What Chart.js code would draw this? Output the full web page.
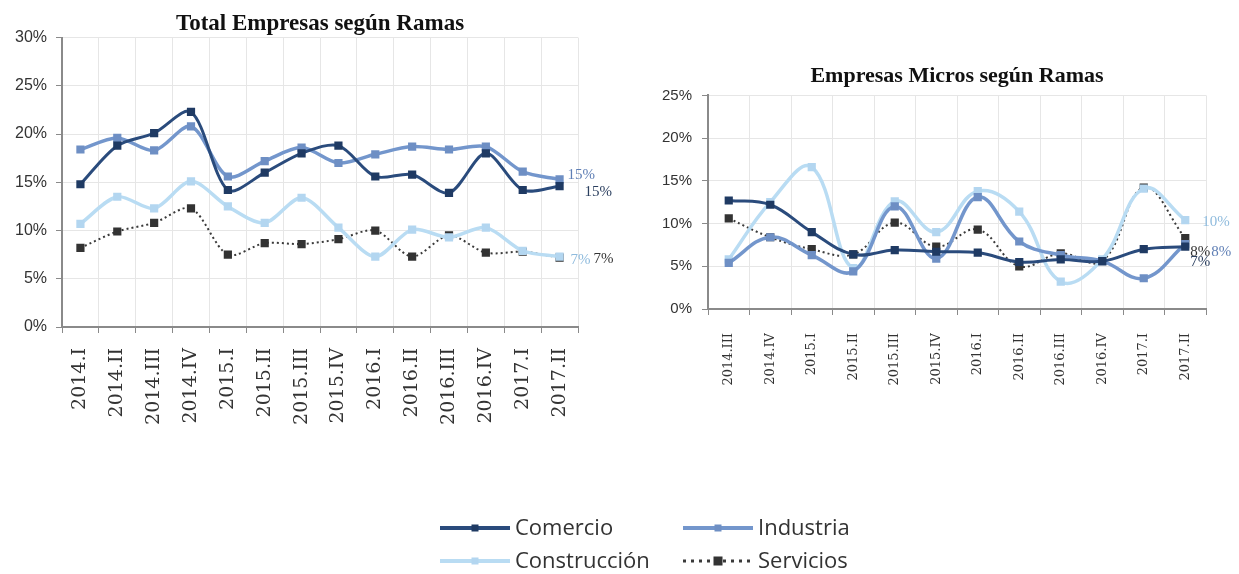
<!DOCTYPE html>
<html><head><meta charset="utf-8">
<script src="https://cdn.jsdelivr.net/npm/chart.js@4/dist/chart.umd.min.js"></script>
<style>
html,body{margin:0;padding:0;background:#fff;width:1239px;height:574px;overflow:hidden;}
.box{position:absolute;}
</style></head><body>
<div class="box" style="left:0;top:0;width:620px;height:460px"><canvas id="c1"></canvas></div>
<div class="box" style="left:620px;top:40px;width:619px;height:400px"><canvas id="c2"></canvas></div>
<div class="box" style="left:420px;top:500px;width:460px;height:74px"><canvas id="c3"></canvas></div>
<script>
// ---- data ----
const seriesNames = ['Comercio', 'Industria', 'Construcción', 'Servicios'];

const totalCategories = ['2014.I','2014.II','2014.III','2014.IV','2015.I','2015.II','2015.III','2015.IV','2016.I','2016.II','2016.III','2016.IV','2017.I','2017.II'];
const totalComercio     = [14.8,18.8,20.1,22.3,14.2,16.0,18.0,18.8,15.6,15.8,13.9,18.0,14.2,14.6];
const totalIndustria    = [18.4,19.6,18.3,20.8,15.6,17.2,18.6,17.0,17.9,18.7,18.4,18.7,16.1,15.3];
const totalConstruccion = [10.7,13.5,12.3,15.1,12.5,10.8,13.4,10.3,7.3,10.1,9.3,10.3,7.9,7.3];
const totalServicios    = [8.2,9.9,10.8,12.3,7.5,8.7,8.6,9.1,10.0,7.3,9.5,7.7,7.8,7.2];
const totalYTicks = [0,5,10,15,20,25,30];

const microCategories = ['2014.III','2014.IV','2015.I','2015.II','2015.III','2015.IV','2016.I','2016.II','2016.III','2016.IV','2017.I','2017.II'];
const microComercio     = [12.7,12.2,9.0,6.4,6.9,6.7,6.6,5.5,5.8,5.6,7.0,7.3];
const microIndustria    = [5.4,8.4,6.3,4.4,12.0,5.9,13.1,7.9,6.3,5.6,3.6,7.6];
const microConstruccion = [5.8,12.5,16.6,4.8,12.6,9.0,13.8,11.4,3.2,5.8,14.1,10.4];
const microServicios    = [10.6,8.4,7.0,6.4,10.1,7.3,9.3,5.0,6.5,5.6,14.2,8.3];
const microYTicks = [0,5,10,15,20,25];

// ---- styles ----
const seriesStyle = [
  {line:'#2A4B7C', point:'#1F3A63', width:3,   dash:[],    label:'#2B3F5F'},
  {line:'#7396CC', point:'#6E8FC4', width:3.5, dash:[],    label:'#5F7FB5'},
  {line:'#B9DCF3', point:'#B3D6F0', width:3.5, dash:[],    label:'#8FBBDD'},
  {line:'#3A3A3A', point:'#333333', width:2,   dash:[2,3], label:'#333333'}
];

function makeDatasets(values, tension) {
  return values.map((v, i) => ({
    label: seriesNames[i],
    data: v,
    borderColor: seriesStyle[i].line,
    backgroundColor: seriesStyle[i].point,
    borderWidth: seriesStyle[i].width,
    borderDash: seriesStyle[i].dash,
    pointStyle: 'rect',
    pointRadius: 5.8,
    pointBorderWidth: 0,
    pointBackgroundColor: seriesStyle[i].point,
    tension: tension,
    fill: false
  }));
}

const endLabelPlugin = {
  id: 'endLabels',
  afterDatasetsDraw(chart, args, opts) {
    const ctx = chart.ctx;
    ctx.save();
    ctx.font = opts.font;
    ctx.textAlign = 'left';
    ctx.textBaseline = 'middle';
    opts.items.forEach(it => {
      const meta = chart.getDatasetMeta(it.ds);
      const pt = meta.data[meta.data.length - 1];
      const ds = chart.data.datasets[it.ds];
      const val = ds.data[ds.data.length - 1];
      ctx.fillStyle = seriesStyle[it.ds].label;
      ctx.fillText(Math.round(val) + '%', pt.x + it.dx, pt.y + it.dy);
    });
    ctx.restore();
  }
};

function makeScales(cfg) {
  return {
    x: {
      type: 'category',
      offset: true,
      grid: {color:'#e6e6e6', offset:true, tickLength:6, tickColor:'#8a8a8a', lineWidth:1},
      border: {color:'#8a8a8a', width:2},
      ticks: {autoSkip:false, maxRotation:90, minRotation:90, padding:cfg.xPad,
              font:{family:'DejaVu Serif', size:cfg.xFont}, color:'#333'},
      afterFit: s => { s.height = cfg.xHeight; }
    },
    y: {
      min: 0, max: cfg.yMax,
      afterBuildTicks: s => { s.ticks = cfg.yTicks.map(v => ({value:v})); },
      grid: {color:'#e6e6e6', tickLength:6, tickColor:'#8a8a8a', lineWidth:1},
      border: {color:'#8a8a8a', width:2},
      ticks: {padding:cfg.yPad, font:{family:'Liberation Sans', size:cfg.yFont}, color:'#333',
              callback: v => v + '%'},
      afterFit: s => { s.width = cfg.yWidth; }
    }
  };
}

Chart.defaults.animation = false;

new Chart(document.getElementById('c1'), {
  type: 'line',
  data: {labels: totalCategories,
         datasets: makeDatasets([totalComercio, totalIndustria, totalConstruccion, totalServicios], 0.3)},
  options: {
    responsive: true, maintainAspectRatio: false,
    layout: {padding: {left:0, right:42, top:0, bottom:0}},
    scales: makeScales({yMax:30, yTicks: totalYTicks, xFont:19, xPad:15, xHeight:133, yFont:16, yPad:9, yWidth:62}),
    plugins: {
      legend: {display:false},
      tooltip: {enabled:false},
      title: {display:true, text:'Total Empresas según Ramas', fullSize:false,
              font:{family:'Liberation Serif', size:23, weight:'bold'}, color:'#111',
              padding:{top:10, bottom:0}},
      endLabels: {font:'15px "Liberation Serif"', items:[
        {ds:1, dx:8, dy:-4}, {ds:0, dx:25, dy:6}, {ds:2, dx:11, dy:3}, {ds:3, dx:34, dy:2}
      ]}
    }
  },
  plugins: [endLabelPlugin]
});

new Chart(document.getElementById('c2'), {
  type: 'line',
  data: {labels: microCategories,
         datasets: makeDatasets([microComercio, microIndustria, microConstruccion, microServicios], 0.4)},
  options: {
    responsive: true, maintainAspectRatio: false,
    layout: {padding: {left:0, right:33, top:0, bottom:0}},
    scales: makeScales({yMax:25, yTicks: microYTicks, xFont:13, xPad:18, xHeight:131, yFont:15, yPad:10, yWidth:88}),
    plugins: {
      legend: {display:false},
      tooltip: {enabled:false},
      title: {display:true, text:'Empresas Micros según Ramas', fullSize:false,
              font:{family:'Liberation Serif', size:22, weight:'bold'}, color:'#111',
              padding:{top:23, bottom:6}},
      endLabels: {font:'15px "Liberation Serif"', items:[
        {ds:2, dx:17, dy:2}, {ds:3, dx:5, dy:14}, {ds:1, dx:26, dy:8}, {ds:0, dx:5, dy:15}
      ]}
    }
  },
  plugins: [endLabelPlugin]
});

const legendPlugin = {
  id: 'gridLegend',
  afterDraw(chart, args, opts) {
    const ctx = chart.ctx;
    ctx.save();
    chart.data.datasets.forEach((ds, i) => {
      const x = opts.cols[i % 2], y = opts.rows[Math.floor(i / 2)];
      const st = seriesStyle[i];
      ctx.strokeStyle = st.line;
      ctx.lineWidth = st.dash.length ? 3 : 4;
      ctx.setLineDash(st.dash.length ? [3, 5] : []);
      ctx.beginPath(); ctx.moveTo(x, y); ctx.lineTo(x + opts.lineLen, y); ctx.stroke();
      ctx.setLineDash([]);
      ctx.fillStyle = st.point;
      const s = st.dash.length ? 9 : 7;
      ctx.fillRect(x + opts.lineLen / 2 - s / 2, y - s / 2, s, s);
      ctx.fillStyle = '#333';
      ctx.font = opts.font;
      ctx.textAlign = 'left';
      ctx.textBaseline = 'middle';
      ctx.fillText(ds.label, x + opts.lineLen + 5, y + 1);
    });
    ctx.restore();
  }
};

new Chart(document.getElementById('c3'), {
  type: 'line',
  data: {labels: [], datasets: makeDatasets([[], [], [], []], 0)},
  options: {
    responsive: true, maintainAspectRatio: false,
    scales: {x: {display:false}, y: {display:false}},
    plugins: {
      legend: {display:false}, tooltip: {enabled:false},
      gridLegend: {cols:[20, 263], rows:[28, 61], lineLen:70, font:'22px "Open Sans"'}
    }
  },
  plugins: [legendPlugin]
});
</script>
</body></html>
